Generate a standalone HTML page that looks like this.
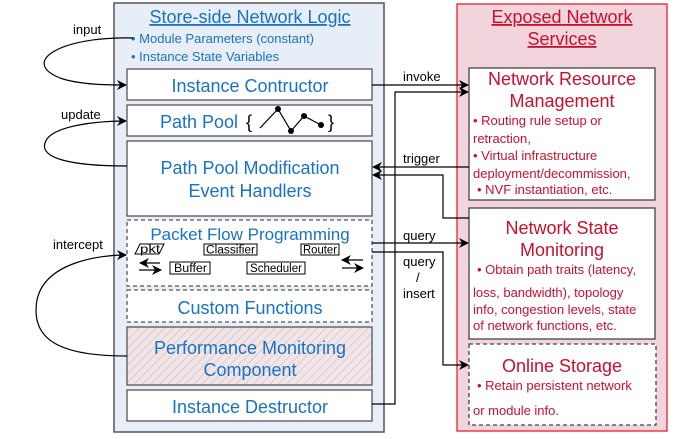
<!DOCTYPE html>
<html><head><meta charset="utf-8"><style>
html,body{margin:0;padding:0;background:#fff;}
svg{display:block;font-family:"Liberation Sans",sans-serif;}
.b{fill:#1a72c0;}
.r{fill:#c8102e;}
</style></head><body>
<svg width="681" height="439" viewBox="0 0 681 439" xmlns="http://www.w3.org/2000/svg">
<defs>
<marker id="ar" markerWidth="10" markerHeight="10" refX="9" refY="5" orient="auto" markerUnits="userSpaceOnUse">
<path d="M0,0 L10,5 L0,10 L3,5 z" fill="#000"/></marker>
<pattern id="hat" width="6" height="6" patternUnits="userSpaceOnUse" patternTransform="rotate(45)">
<rect width="6" height="6" fill="#f6e4e2"/><line x1="0" y1="0" x2="0" y2="6" stroke="#c4d2e8" stroke-width="2"/></pattern>
</defs>
<rect x="114" y="3" width="270" height="429" fill="#e8eef8" stroke="#555" stroke-width="1.5"/>
<text x="250" y="23" text-anchor="middle" font-size="18" class="b" text-decoration="underline">Store-side Network Logic</text>
<text x="131" y="43" font-size="13" class="b">• Module Parameters (constant)</text>
<text x="131" y="61" font-size="13" class="b">• Instance State Variables</text>
<rect x="127" y="69" width="245" height="31" fill="#fff" stroke="#555" stroke-width="1.3"/>
<text x="250" y="92" text-anchor="middle" font-size="18" class="b">Instance Contructor</text>
<rect x="127" y="105" width="245" height="31" fill="#fff" stroke="#555" stroke-width="1.3"/>
<text x="160" y="128" font-size="18" class="b">Path Pool</text>
<text x="246" y="128" font-size="18">{</text>
<text x="328" y="128" font-size="18">}</text>
<polyline points="260,128 278,109 291,131 304,116 321,125" fill="none" stroke="#000" stroke-width="1.2"/>
<circle cx="278" cy="109" r="3"/><circle cx="291" cy="131" r="3"/><circle cx="304" cy="116" r="3"/><circle cx="321" cy="125" r="3"/>
<rect x="127" y="141" width="245" height="75" fill="#fff" stroke="#555" stroke-width="1.3"/>
<text x="250" y="174" text-anchor="middle" font-size="18" class="b">Path Pool Modification</text>
<text x="250" y="197" text-anchor="middle" font-size="18" class="b">Event Handlers</text>
<rect x="127" y="220" width="245" height="66" fill="#fff" stroke="#555" stroke-width="1.3" stroke-dasharray="4,3"/>
<text x="250" y="240" text-anchor="middle" font-size="17" class="b">Packet Flow Programming</text>
<g font-size="11.5">
<polygon points="135,254 159,254 164,244 140,244" fill="#fff" stroke="#000"/>
<text x="140" y="253" textLength="20" lengthAdjust="spacingAndGlyphs">pkt</text>
<rect x="204" y="244" width="53" height="11" fill="#fff" stroke="#000"/><text x="206" y="253.5" textLength="49" lengthAdjust="spacingAndGlyphs">Classifier</text>
<rect x="301" y="244" width="38" height="11" fill="#fff" stroke="#000"/><text x="303" y="253.5" textLength="34" lengthAdjust="spacingAndGlyphs">Router</text>
<rect x="170" y="262" width="40" height="12" fill="#fff" stroke="#000"/><text x="174" y="272" textLength="33" lengthAdjust="spacingAndGlyphs">Buffer</text>
<rect x="247" y="262" width="58" height="12" fill="#fff" stroke="#000"/><text x="250" y="272" textLength="52" lengthAdjust="spacingAndGlyphs">Scheduler</text>
</g>
<g stroke="#000" stroke-width="1.2">
<line x1="160" y1="263" x2="140" y2="263" marker-end="url(#ar)"/>
<line x1="139" y1="270" x2="161" y2="270" marker-end="url(#ar)"/>
<line x1="363" y1="260" x2="342" y2="260" marker-end="url(#ar)"/>
<line x1="342" y1="268" x2="363" y2="268" marker-end="url(#ar)"/>
</g>
<rect x="127" y="290" width="245" height="32" fill="#fff" stroke="#555" stroke-width="1.3" stroke-dasharray="4,3"/>
<text x="250" y="314" text-anchor="middle" font-size="18" class="b">Custom Functions</text>
<rect x="127" y="327" width="245" height="58" fill="url(#hat)" stroke="#555" stroke-width="1.3"/>
<text x="250" y="354" text-anchor="middle" font-size="18" class="b">Performance Monitoring</text>
<text x="250" y="376" text-anchor="middle" font-size="18" class="b">Component</text>
<rect x="127" y="390" width="245" height="31" fill="#fff" stroke="#555" stroke-width="1.3"/>
<text x="250" y="413" text-anchor="middle" font-size="18" class="b">Instance Destructor</text>
<rect x="457" y="4" width="210" height="427" fill="#f2d4dc" stroke="#e8202a" stroke-width="1.3"/>
<text x="562" y="23" text-anchor="middle" font-size="18" class="r" text-decoration="underline">Exposed Network</text>
<text x="562" y="45" text-anchor="middle" font-size="18" class="r" text-decoration="underline">Services</text>
<rect x="469" y="68" width="186" height="132" fill="#fff" stroke="#444" stroke-width="1.3"/>
<text x="562" y="85" text-anchor="middle" font-size="18" class="r">Network Resource</text>
<text x="562" y="107" text-anchor="middle" font-size="18" class="r">Management</text>
<g font-size="13" class="r">
<text x="473" y="125">• Routing rule setup or</text>
<text x="473" y="143">retraction,</text>
<text x="473" y="160">• Virtual infrastructure</text>
<text x="473" y="178">deployment/decommission,</text>
<text x="477" y="194">• NVF instantiation, etc.</text>
</g>
<rect x="469" y="208" width="186" height="131" fill="#fff" stroke="#444" stroke-width="1.3"/>
<text x="562" y="234" text-anchor="middle" font-size="18" class="r">Network State</text>
<text x="562" y="256" text-anchor="middle" font-size="18" class="r">Monitoring</text>
<g font-size="13" class="r">
<text x="477" y="274">• Obtain path traits (latency,</text>
<text x="473" y="297">loss, bandwidth), topology</text>
<text x="473" y="314">info, congestion levels, state</text>
<text x="473" y="330">of network functions, etc.</text>
</g>
<rect x="469" y="344" width="187" height="81" fill="#fff" stroke="#444" stroke-width="1.3" stroke-dasharray="4,3"/>
<text x="562" y="372" text-anchor="middle" font-size="18" class="r">Online Storage</text>
<g font-size="13" class="r">
<text x="477" y="390">• Retain persistent network</text>
<text x="473" y="415">or module info.</text>
</g>
<g fill="none" stroke="#000" stroke-width="1.2">
<line x1="372" y1="85" x2="468" y2="85" marker-end="url(#ar)"/>
<polyline points="372,404 395,404 395,92 468,92" marker-end="url(#ar)"/>
<line x1="469" y1="167" x2="373" y2="167" marker-end="url(#ar)"/>
<polyline points="469,218 443,218 443,175 373,175" marker-end="url(#ar)"/>
<line x1="372" y1="243" x2="468" y2="243" marker-end="url(#ar)"/>
<polyline points="372,252 443,252 443,365 468,365" marker-end="url(#ar)"/>
<path d="M133,38 C60,36 20,62 60,78 C80,85 110,85 126,85" marker-end="url(#ar)"/>
<path d="M127,166 C70,166 40,158 45,143 C50,125 100,121 126,121" marker-end="url(#ar)"/>
<path d="M127,356 C60,356 30,340 37,300 C45,262 100,255 126,255" marker-end="url(#ar)"/>
</g>
<g font-size="13" fill="#000">
<text x="73" y="34">input</text>
<text x="61" y="119">update</text>
<text x="53" y="249">intercept</text>
<text x="403" y="81">invoke</text>
<text x="403" y="163">trigger</text>
<text x="403" y="240">query</text>
<text x="403" y="266">query</text>
<text x="416" y="282">/</text>
<text x="403" y="298">insert</text>
</g>
</svg>
</body></html>
